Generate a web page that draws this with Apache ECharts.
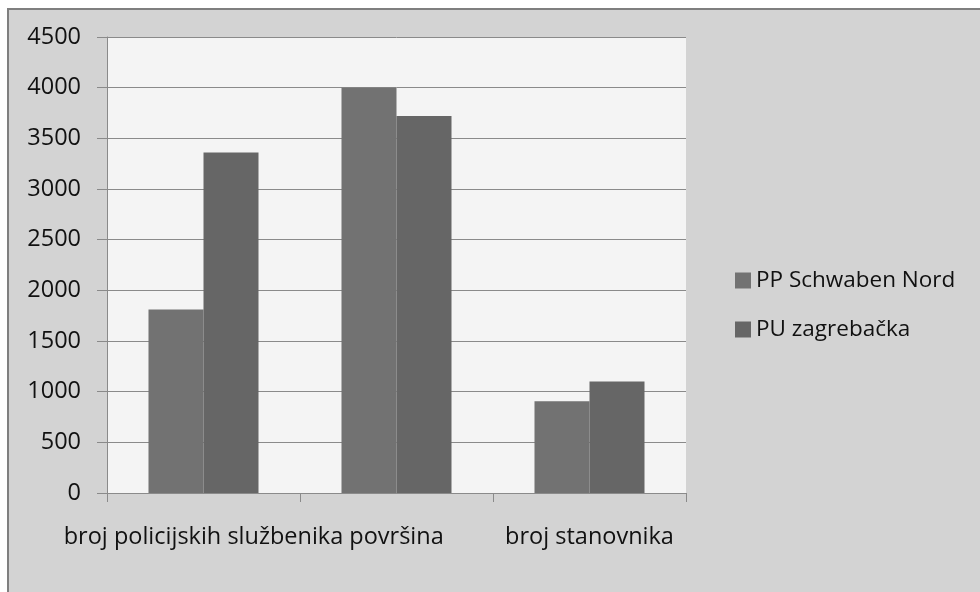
<!DOCTYPE html>
<html><head><meta charset="utf-8">
<script src="https://cdn.jsdelivr.net/npm/echarts@6/dist/echarts.min.js"></script>
<style>html,body{margin:0;padding:0;background:#fff}#c{width:980px;height:592px}</style>
</head><body><div id="c"></div>
<script>
const categories = ['broj policijskih službenika', 'površina', 'broj stanovnika'];
const seriesNames = ['PP Schwaben Nord', 'PU zagrebačka'];
const ppSchwabenNord = [1810, 4000, 905];
const puZagrebacka = [3360, 3720, 1100];
const yTicks = { min: 0, max: 4500, interval: 500 };

const chart = echarts.init(document.getElementById('c'), null, { renderer: 'canvas' });
const font = '"Open Sans", "Noto Sans", sans-serif';
chart.setOption({
  animation: false,
  backgroundColor: '#ffffff',
  graphic: [{
    type: 'rect', z: -10, silent: true,
    shape: { x: 8, y: 9, width: 1000, height: 600 },
    style: { fill: '#d3d3d3', stroke: '#7f7f7f', lineWidth: 2 }
  }],
  grid: { left: 107, top: 37, right: 294, bottom: 99, show: true, backgroundColor: '#f4f4f4', borderWidth: 0 },
  legend: {
    orient: 'vertical', left: 730, top: 264, itemWidth: 16, itemHeight: 16, itemGap: 26,
    icon: 'rect',
    textStyle: { fontFamily: font, fontSize: 22.5, color: '#111', padding: [0, 0, 0, 0] },
    data: seriesNames
  },
  xAxis: {
    type: 'category', data: categories,
    axisLine: { lineStyle: { color: '#8a8a8a', width: 1 } },
    axisTick: { show: true, length: 9, lineStyle: { color: '#8a8a8a' } },
    axisLabel: { interval: 0, margin: 32, fontFamily: font, fontSize: 23.5, color: '#111' }
  },
  yAxis: {
    type: 'value', min: yTicks.min, max: yTicks.max, interval: yTicks.interval,
    axisLine: { show: true, lineStyle: { color: '#8a8a8a', width: 1 } },
    axisTick: { show: true, length: 10, lineStyle: { color: '#8a8a8a' } },
    splitLine: { lineStyle: { color: '#8a8a8a', width: 1 } },
    axisLabel: { margin: 26, fontFamily: font, fontSize: 23.5, color: '#111', formatter: v => String(v) }
  },
  series: [
    { name: seriesNames[0], type: 'bar', data: ppSchwabenNord, itemStyle: { color: '#727272' }, barGap: '0%', barCategoryGap: '43%' },
    { name: seriesNames[1], type: 'bar', data: puZagrebacka, itemStyle: { color: '#666666' }, barGap: '0%', barCategoryGap: '43%' }
  ]
});
</script></body></html>
